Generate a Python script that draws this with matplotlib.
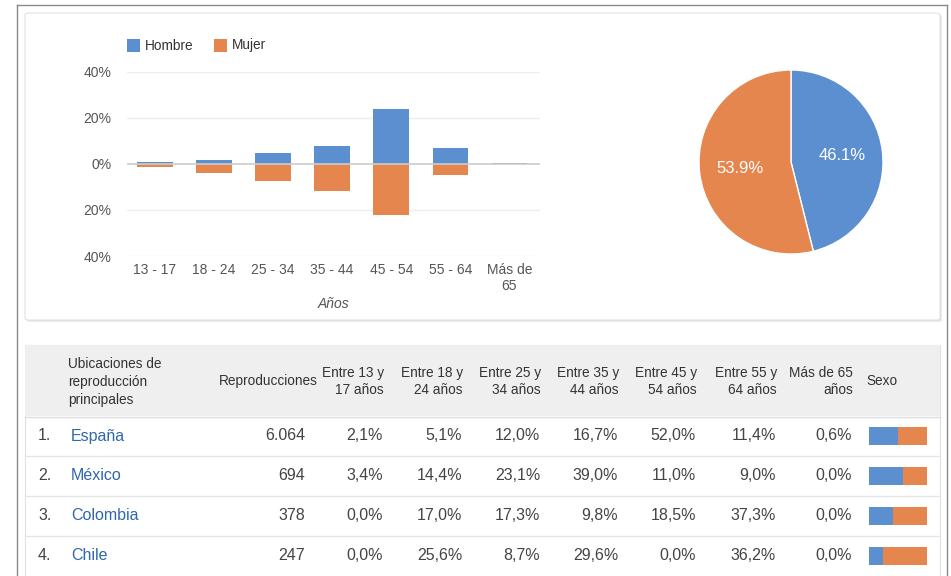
import matplotlib as mpl
import matplotlib.pyplot as plt
from matplotlib.patches import Rectangle, FancyBboxPatch
from matplotlib.lines import Line2D

# ---- data ----
age_groups = ["13 - 17", "18 - 24", "25 - 34", "35 - 44", "45 - 54", "55 - 64", "Más de\n65"]
hombre = [0.9, 1.7, 4.5, 7.8, 23.6, 6.7, 0.3]
mujer = [1.4, 3.8, 7.5, 11.9, 22.3, 4.8, 0.2]

sex_labels = ["Hombre", "Mujer"]
sex_share = [46.1, 53.9]

countries = ["España", "México", "Colombia", "Chile"]
reproducciones = [6064, 694, 378, 247]
age_cols = ["Entre 13 y\n17 años", "Entre 18 y\n24 años", "Entre 25 y\n34 años",
            "Entre 35 y\n44 años", "Entre 45 y\n54 años", "Entre 55 y\n64 años",
            "Más de 65\naños"]
age_pct = [
    [2.1, 5.1, 12.0, 16.7, 52.0, 11.4, 0.6],
    [3.4, 14.4, 23.1, 39.0, 11.0, 9.0, 0.0],
    [0.0, 17.0, 17.3, 9.8, 18.5, 37.3, 0.0],
    [0.0, 25.6, 8.7, 29.6, 0.0, 36.2, 0.0],
]
male_share = [0.506, 0.593, 0.407, 0.233]

BLUE = "#5b8fcf"
ORANGE = "#e4864e"
W, H = 951, 576

plt.rcParams["font.family"] = ["Liberation Sans", "DejaVu Sans"]

fig = plt.figure(figsize=(W / 100, H / 100), dpi=100)
fig.patch.set_facecolor("white")


def box(l, t, r, b):
    # pixel box -> figure rect
    return [l / W, 1 - b / H, (r - l) / W, (b - t) / H]


def T(x, y, s, **kw):
    fig.text(x / W, 1 - y / H, s, zorder=10, **kw)


def fig_line(x0, y0, x1, y1, **kw):
    fig.add_artist(Line2D([x0 / W, x1 / W], [1 - y0 / H, 1 - y1 / H],
                          transform=fig.transFigure, zorder=-5, **kw))


def fig_rect(x0, y0, w, h, **kw):
    fig.add_artist(Rectangle((x0 / W, 1 - (y0 + h) / H), w / W, h / H,
                             transform=fig.transFigure, **kw))


# ---- outer frame and cards ----
fig_line(17, 5, 947, 5, color="#8a8a8a", lw=1)
fig_line(17, 5, 17, 576, color="#8a8a8a", lw=1)
fig_line(947, 5, 947, 576, color="#8a8a8a", lw=1)

for dx, c in [(2, "#ececec"), (1, "#dedede")]:
    fig.add_artist(FancyBboxPatch(((25 + dx) / W, 1 - (320 + dx) / H), 915 / W, 307 / H,
                                  boxstyle="round,pad=0,rounding_size=0.004",
                                  transform=fig.transFigure, fc=c, ec="none", zorder=-9))
fig.add_artist(FancyBboxPatch((25 / W, 1 - 320 / H), 915 / W, 307 / H,
                              boxstyle="round,pad=0,rounding_size=0.004",
                              transform=fig.transFigure, fc="white", ec="#e2e2e2", lw=0.8,
                              zorder=-8))

# table card
fig_rect(26, 346, 915, 240, fc="#dcdcdc", ec="none", zorder=-9)
fig_rect(25, 345, 915, 240, fc="white", ec="#e0e0e0", lw=0.8, zorder=-8)
fig_rect(25, 345, 915, 71, fc="#efefef", ec="none", zorder=-7)
fig_line(25, 416.5, 940, 416.5, color="#dcdcdc", lw=1)
for yl in [456, 496, 536]:
    fig_line(25, yl, 940, yl, color="#e6e6e6", lw=1)

# ---- bar chart ----
ax = fig.add_axes(box(126.7, 71.5, 540, 256))
ax.patch.set_alpha(0)
x = range(len(age_groups))
ax.bar(x, hombre, width=0.6, color=BLUE, zorder=3)
ax.bar(x, [-v for v in mujer], width=0.6, color=ORANGE, zorder=3)
ax.set_xlim(-0.48, 6.52)
ax.set_ylim(-40, 40)
ax.set_yticks([-40, -20, 0, 20, 40])
ax.set_yticklabels(["40%", "20%", "0%", "20%", "40%"])
ax.set_xticks(list(x))
ax.set_xticklabels(age_groups, linespacing=1.2)
for g in [-40, -20, 20, 40]:
    ax.axhline(g, color="#eeeeee", lw=1, zorder=1)
ax.axhline(0, color="#cccccc", lw=1.2, zorder=4)
for s in ax.spines.values():
    s.set_visible(False)
ax.tick_params(length=0, colors="#555555", labelsize=10)
ax.tick_params(axis="y", pad=11)
ax.tick_params(axis="x", pad=5)
ax.set_xlabel("Años", style="italic", color="#555555", fontsize=10, labelpad=3)

# legend
for lx, lab, col in [(127, sex_labels[0], BLUE), (214.3, sex_labels[1], ORANGE)]:
    fig_rect(lx, 39.3, 13, 12.4, fc=col, ec="none", zorder=2)
    T(lx + 18, 45.5, lab, fontsize=9.8, color="#333333", va="center", ha="left")

# ---- pie ----
pax = fig.add_axes(box(699, 70, 883, 254))
pax.patch.set_alpha(0)
pax.pie(sex_share, colors=[BLUE, ORANGE], startangle=90, counterclock=False,
        autopct="%.1f%%", pctdistance=0.56,
        wedgeprops=dict(edgecolor="white", linewidth=1),
        textprops=dict(color="white", fontsize=12))
pax.set_xlim(-1, 1)
pax.set_ylim(-1, 1)
pax.set_aspect("equal")

# ---- table ----
hdr = dict(fontsize=9.8, color="#333333", va="center")
T(68, 382, "Ubicaciones de\nreproducción\nprincipales", ha="left", linespacing=1.32, **hdr)
T(318, 381, "Reproducciones", ha="right", **hdr)
col_right = [384, 463, 541, 619, 697, 777, 853]
for cx, lab in zip(col_right, age_cols):
    T(cx, 381.5, lab, ha="right", multialignment="right", linespacing=1.25, **hdr)
T(866, 381, "Sexo", ha="left", **hdr)

row_y = [436, 476, 516, 556]
cell = dict(fontsize=11.5, color="#444444", va="center")
for i, (name, rep, pcts) in enumerate(zip(countries, reproducciones, age_pct)):
    y = row_y[i]
    T(38, y, f"{i + 1}.", ha="left", **cell)
    T(71, y, name, ha="left", fontsize=11.5, color="#2f67ad", va="center")
    T(305, y, f"{rep:,}".replace(",", "."), ha="right", **cell)
    for cx, p in zip(col_right, pcts):
        T(cx - 1, y, f"{p:.1f}%".replace(".", ","), ha="right", **cell)

# sex split bars
sax = fig.add_axes(box(869, 416, 927, 576))
sax.patch.set_alpha(0)
rows = range(len(countries))
sax.barh(rows, male_share, height=0.44, color=BLUE)
sax.barh(rows, [1 - m for m in male_share], left=male_share, height=0.44, color=ORANGE)
sax.set_xlim(0, 1)
sax.set_ylim(3.5, -0.5)
sax.axis("off")

fig.savefig("out.png", dpi=100)
